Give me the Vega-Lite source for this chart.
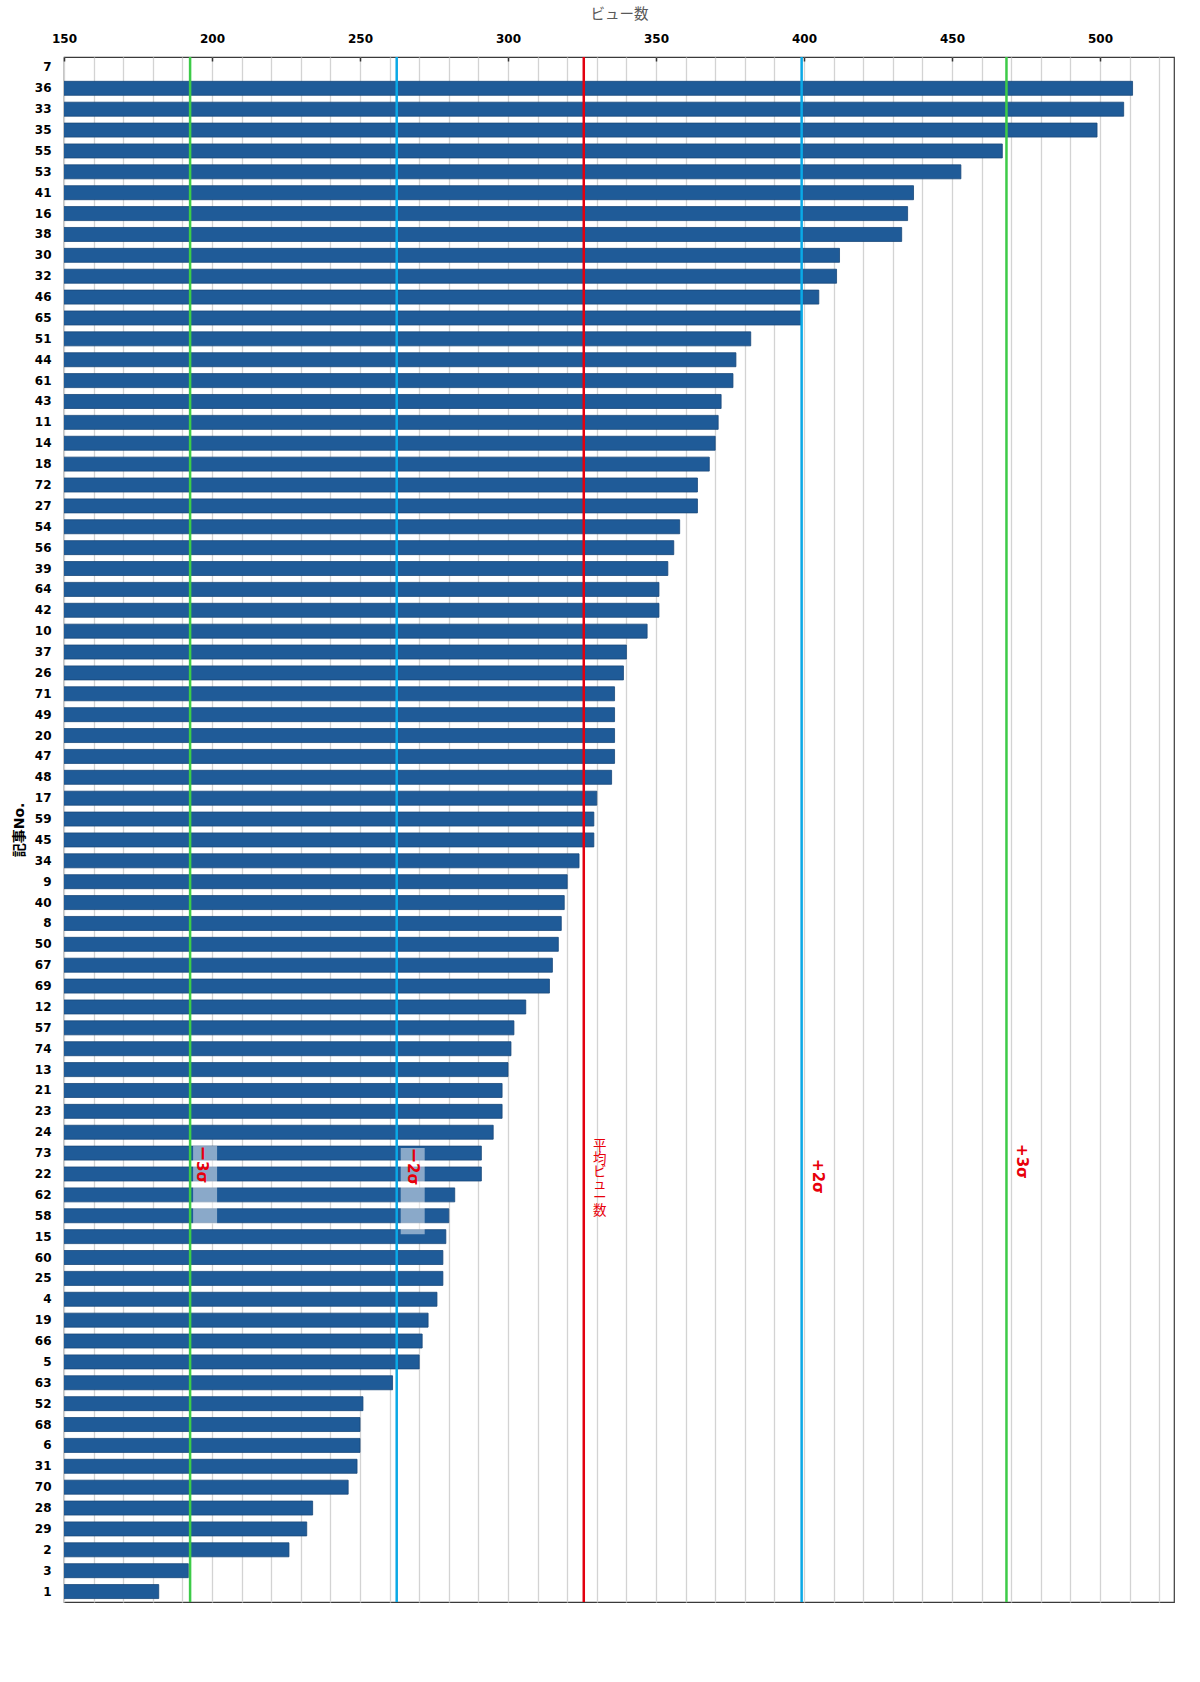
{
  "$schema": "https://vega.github.io/schema/vega-lite/v6.json",
  "width": 1110,
  "height": 1545,
  "autosize": "none",
  "padding": {"left": 64, "top": 57, "right": 26, "bottom": 80},
  "background": "white",
  "config": {
    "view": {"stroke": "#3a3a3a", "strokeWidth": 1.2},
    "font": "DejaVu Sans, Noto Sans CJK JP",
    "axisX": {"labelOverlap": false, "labelFlush": false}
  },
  "datasets": {
    "views": [
      {"no": "7", "views": null},
      {"no": "36", "views": 511}, {"no": "33", "views": 508}, {"no": "35", "views": 499},
      {"no": "55", "views": 467}, {"no": "53", "views": 453}, {"no": "41", "views": 437},
      {"no": "16", "views": 435}, {"no": "38", "views": 433}, {"no": "30", "views": 412},
      {"no": "32", "views": 411}, {"no": "46", "views": 405}, {"no": "65", "views": 399},
      {"no": "51", "views": 382}, {"no": "44", "views": 377}, {"no": "61", "views": 376},
      {"no": "43", "views": 372}, {"no": "11", "views": 371}, {"no": "14", "views": 370},
      {"no": "18", "views": 368}, {"no": "72", "views": 364}, {"no": "27", "views": 364},
      {"no": "54", "views": 358}, {"no": "56", "views": 356}, {"no": "39", "views": 354},
      {"no": "64", "views": 351}, {"no": "42", "views": 351}, {"no": "10", "views": 347},
      {"no": "37", "views": 340}, {"no": "26", "views": 339}, {"no": "71", "views": 336},
      {"no": "49", "views": 336}, {"no": "20", "views": 336}, {"no": "47", "views": 336},
      {"no": "48", "views": 335}, {"no": "17", "views": 330}, {"no": "59", "views": 329},
      {"no": "45", "views": 329}, {"no": "34", "views": 324}, {"no": "9", "views": 320},
      {"no": "40", "views": 319}, {"no": "8", "views": 318}, {"no": "50", "views": 317},
      {"no": "67", "views": 315}, {"no": "69", "views": 314}, {"no": "12", "views": 306},
      {"no": "57", "views": 302}, {"no": "74", "views": 301}, {"no": "13", "views": 300},
      {"no": "21", "views": 298}, {"no": "23", "views": 298}, {"no": "24", "views": 295},
      {"no": "73", "views": 291}, {"no": "22", "views": 291}, {"no": "62", "views": 282},
      {"no": "58", "views": 280}, {"no": "15", "views": 279}, {"no": "60", "views": 278},
      {"no": "25", "views": 278}, {"no": "4", "views": 276}, {"no": "19", "views": 273},
      {"no": "66", "views": 271}, {"no": "5", "views": 270}, {"no": "63", "views": 261},
      {"no": "52", "views": 251}, {"no": "68", "views": 250}, {"no": "6", "views": 250},
      {"no": "31", "views": 249}, {"no": "70", "views": 246}, {"no": "28", "views": 234},
      {"no": "29", "views": 232}, {"no": "2", "views": 226}, {"no": "3", "views": 192},
      {"no": "1", "views": 182}
    ],
    "lines": [
      {"name": "ー3σ", "kind": "s3", "views": 192.6},
      {"name": "ー2σ", "kind": "s2", "views": 262.4},
      {"name": "平均ビュー数", "kind": "mean", "views": 325.6},
      {"name": "+2σ", "kind": "s2", "views": 399.2},
      {"name": "+3σ", "kind": "s3", "views": 468.4}
    ]
  },
  "layer": [
    {
      "data": {"name": "views"},
      "mark": {"type": "bar", "color": "#1F5B98", "stroke": "#18487A", "strokeWidth": 0.8, "clip": true},
      "encoding": {
        "y": {
          "field": "no",
          "type": "nominal",
          "title": "記事No.",
          "scale": {
            "domain": ["7","36","33","35","55","53","41","16","38","30","32","46","65","51","44","61","43","11","14","18","72","27","54","56","39","64","42","10","37","26","71","49","20","47","48","17","59","45","34","9","40","8","50","67","69","12","57","74","13","21","23","24","73","22","62","58","15","60","25","4","19","66","5","63","52","68","6","31","70","28","29","2","3","1"],
            "paddingInner": 0.33,
            "paddingOuter": 0.165
          },
          "axis": {
            "orient": "left",
            "ticks": false,
            "domain": false,
            "grid": false,
            "labelFont": "DejaVu Sans",
            "labelFontWeight": "bold",
            "labelFontSize": 12,
            "labelColor": "#000000",
            "labelPadding": 13,
            "titleFont": "DejaVu Sans, Noto Sans CJK JP",
            "titleFontWeight": "bold",
            "titleFontSize": 14,
            "titleColor": "#000000",
            "titlePadding": 8
          }
        },
        "x": {
          "field": "views",
          "type": "quantitative",
          "title": "ビュー数",
          "scale": {"domain": [150, 525], "zero": false, "nice": false},
          "axis": {
            "orient": "top",
            "values": [150,160,170,180,190,200,210,220,230,240,250,260,270,280,290,300,310,320,330,340,350,360,370,380,390,400,410,420,430,440,450,460,470,480,490,500,510,520],
            "tickCount": 60,
            "labelExpr": "datum.value % 50 === 0 ? datum.label : ''",
            "labelOverlap": false,
            "labelFlush": false,
            "grid": true,
            "gridColor": "#d3d3d3",
            "gridWidth": 1.3,
            "domain": false,
            "tickSize": -4,
            "tickWidth": 1.5,
            "tickColor": {"condition": {"test": "datum.value % 50 === 0", "value": "#333333"}, "value": "transparent"},
            "labelFont": "DejaVu Sans",
            "labelFontWeight": "bold",
            "labelFontSize": 12,
            "labelColor": "#000000",
            "labelPadding": 16,
            "titleFont": "Noto Sans CJK JP",
            "titleFontWeight": "normal",
            "titleFontSize": 14.5,
            "titleColor": "#595959",
            "titlePadding": 11
          }
        }
      }
    },
    {
      "data": {"name": "lines"},
      "mark": {"type": "rule", "strokeWidth": 2.5},
      "encoding": {
        "x": {"field": "views", "type": "quantitative", "title": "ビュー数"},
        "color": {
          "field": "kind",
          "type": "nominal",
          "scale": {"domain": ["s3", "s2", "mean"], "range": ["#3DCB48", "#0AA9E6", "#E3000F"]},
          "legend": null
        }
      }
    },
    {
      "data": {"name": "lines"},
      "transform": [{"filter": "datum.name === 'ー3σ'"}],
      "mark": {"type": "rect", "color": "white", "opacity": 0.48, "xOffset": 3, "x2Offset": 27, "yOffset": -7, "y2Offset": -12.5},
      "encoding": {
        "x": {"field": "views", "type": "quantitative", "title": "ビュー数"},
        "x2": {"field": "views"},
        "y": {"datum": "73", "type": "nominal", "title": "記事No."},
        "y2": {"datum": "15"}
      }
    },
    {
      "data": {"name": "lines"},
      "transform": [{"filter": "datum.name === 'ー2σ'"}],
      "mark": {"type": "rect", "color": "white", "opacity": 0.48, "xOffset": 4, "x2Offset": 28, "yOffset": -5, "y2Offset": -2.5},
      "encoding": {
        "x": {"field": "views", "type": "quantitative", "title": "ビュー数"},
        "x2": {"field": "views"},
        "y": {"datum": "73", "type": "nominal", "title": "記事No."},
        "y2": {"datum": "15"}
      }
    },
    {
      "data": {"name": "lines"},
      "transform": [{"filter": "datum.name === 'ー3σ'"}],
      "mark": {"type": "text", "angle": 90, "align": "left", "baseline": "middle", "fontSize": 15, "fontWeight": "bold", "color": "#E8000B", "xOffset": 12, "yOffset": -7},
      "encoding": {
        "x": {"field": "views", "type": "quantitative", "title": "ビュー数"},
        "y": {"datum": "73", "type": "nominal", "title": "記事No."},
        "text": {"field": "name"}
      }
    },
    {
      "data": {"name": "lines"},
      "transform": [{"filter": "datum.name === 'ー2σ'"}],
      "mark": {"type": "text", "angle": 90, "align": "left", "baseline": "middle", "fontSize": 15, "fontWeight": "bold", "color": "#E8000B", "xOffset": 16, "yOffset": -5},
      "encoding": {
        "x": {"field": "views", "type": "quantitative", "title": "ビュー数"},
        "y": {"datum": "73", "type": "nominal", "title": "記事No."},
        "text": {"field": "name"}
      }
    },
    {
      "data": {"name": "lines"},
      "transform": [{"filter": "datum.name === '+2σ'"}],
      "mark": {"type": "text", "angle": 90, "align": "left", "baseline": "middle", "fontSize": 15, "fontWeight": "bold", "color": "#E8000B", "xOffset": 16, "yOffset": 6},
      "encoding": {
        "x": {"field": "views", "type": "quantitative", "title": "ビュー数"},
        "y": {"datum": "73", "type": "nominal", "title": "記事No."},
        "text": {"field": "name"}
      }
    },
    {
      "data": {"name": "lines"},
      "transform": [{"filter": "datum.name === '+3σ'"}],
      "mark": {"type": "text", "angle": 90, "align": "left", "baseline": "middle", "fontSize": 15, "fontWeight": "bold", "color": "#E8000B", "xOffset": 16, "yOffset": -9},
      "encoding": {
        "x": {"field": "views", "type": "quantitative", "title": "ビュー数"},
        "y": {"datum": "73", "type": "nominal", "title": "記事No."},
        "text": {"field": "name"}
      }
    },
    {
      "data": {"name": "lines"},
      "transform": [{"filter": "datum.kind === 'mean'"}],
      "mark": {"type": "text", "align": "center", "baseline": "top", "font": "Noto Sans CJK JP", "fontSize": 13.5, "lineHeight": 13, "color": "#E8000B", "xOffset": 16, "yOffset": -14},
      "encoding": {
        "x": {"field": "views", "type": "quantitative", "title": "ビュー数"},
        "y": {"datum": "73", "type": "nominal", "title": "記事No."},
        "text": {"value": ["平", "均", "ビ", "ュ", "ー", "数"]}
      }
    }
  ]
}
